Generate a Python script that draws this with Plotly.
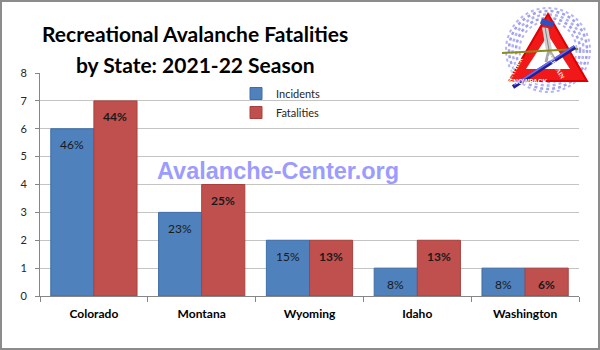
import plotly.graph_objects as go
import math

# ---- data ----
states = ["Colorado", "Montana", "Wyoming", "Idaho", "Washington"]
incidents = [6, 3, 2, 1, 1]
fatalities = [7, 4, 2, 2, 1]
incident_pct = ["46%", "23%", "15%", "8%", "8%"]
fatality_pct = ["44%", "25%", "13%", "13%", "6%"]
y_ticks = [0, 1, 2, 3, 4, 5, 6, 7, 8]
title_lines = ["Recreational Avalanche Fatalities", "by State: 2021-22 Season"]

# ---- geometry (pixels) ----
FW, FH = 600, 350
L, R, T, B = 40, 579, 73, 296
PW, PH = R - L, B - T
FONT = "Lato, 'Open Sans', sans-serif"


def px(x, y):
    return (x - L) / PW, (B - y) / PH


fig = go.Figure()
fig.add_trace(go.Bar(x=states, y=incidents, name="Incidents",
                     marker=dict(color="#4f81bd", line=dict(color="#3f6ea8", width=1))))
fig.add_trace(go.Bar(x=states, y=fatalities, name="Fatalities",
                     marker=dict(color="#c0504d", line=dict(color="#a9403d", width=1))))

annotations = []
for s, v, t in zip(states, incidents, incident_pct):
    annotations.append(dict(x=s, y=v, xref="x", yref="y", text=t, showarrow=False,
                            xshift=-21.5, yshift=-16,
                            font=dict(family=FONT, size=12, color="#1a1a1a")))
for s, v, t in zip(states, fatalities, fatality_pct):
    annotations.append(dict(x=s, y=v, xref="x", yref="y", text="<b>" + t + "</b>", showarrow=False,
                            xshift=21.5, yshift=-16,
                            font=dict(family=FONT, size=12, color="#1a1a1a")))

# title (two lines)
for line, ty in zip(title_lines, [34, 64]):
    tx, tyy = px(195, ty)
    annotations.append(dict(x=tx, y=tyy, xref="paper", yref="paper", text="<b>" + line + "</b>",
                            showarrow=False, xanchor="center", yanchor="middle",
                            font=dict(family=FONT, size=21, color="#000000")))

# watermark
wx, wy = px(278, 171)
annotations.append(dict(x=wx, y=wy, xref="paper", yref="paper", text="<b>Avalanche-Center.org</b>",
                        showarrow=False, xanchor="center", yanchor="middle",
                        font=dict(family="Liberation Sans, Arial, sans-serif", size=23.5, color="#9c9cff")))

# ---- logo (decoration) ----
shapes = []
cx, cy = 548, 50
for r, w, c in [(42, 2, "#b4b4f4"), (39, 2.5, "#a0a0ee"), (35.5, 2.5, "#b0b0f2"),
                (32, 2.5, "#a0a0ee"), (28.5, 2, "#b4b4f4")]:
    x0, y0 = px(cx - r, cy - r)
    x1, y1 = px(cx + r, cy + r)
    shapes.append(dict(type="circle", xref="paper", yref="paper", x0=x0, y0=y1, x1=x1, y1=y0,
                       line=dict(color=c, width=w, dash="dot"), layer="above"))


def path(points):
    s = ""
    for i, (a, b) in enumerate(points):
        X, Y = px(a, b)
        s += ("M" if i == 0 else "L") + f"{X:.5f},{Y:.5f} "
    return s + "Z"


outer = [(548, 14), (509, 81), (587, 81)]
inner = [(548, 35), (526, 69), (570, 69)]
shapes.append(dict(type="path", xref="paper", yref="paper", path=path(outer),
                   fillcolor="#f01818", line=dict(color="#e00000", width=2), layer="above"))
shapes.append(dict(type="path", xref="paper", yref="paper", path=path(inner),
                   fillcolor="#ffffff", line=dict(width=0), layer="above"))


def seg(a, b, c, d, color, w):
    x0, y0 = px(a, b)
    x1, y1 = px(c, d)
    return dict(type="line", xref="paper", yref="paper", x0=x0, y0=y0, x1=x1, y1=y1,
                line=dict(color=color, width=w), layer="above")


# skier
shapes.append(seg(545, 27, 549, 50, "#d0d0d0", 6))
shapes.append(seg(545, 27, 549, 50, "#808080", 1))
shapes.append(seg(549, 50, 546, 62, "#a8a8a8", 3))
shapes.append(seg(549, 50, 555, 60, "#a8a8a8", 3))
shapes.append(seg(541, 21, 553, 25, "#3050c0", 6))
shapes.append(seg(543, 26, 552, 28, "#d02020", 2))
shapes.append(seg(502, 53, 578, 49, "#8a8a1a", 2))
shapes.append(seg(513, 87, 575, 47, "#202090", 4))
shapes.append(seg(514, 85, 574, 46, "#6a6af0", 2))

ang = math.degrees(math.atan2(81 - 14, 548 - 509))
lx, ly = px(527, 53)
annotations.append(dict(x=lx, y=ly, xref="paper", yref="paper", text="<b>WEATHER</b>", showarrow=False,
                        textangle=-ang, font=dict(family="Liberation Serif, serif", size=6, color="white")))
rx, ry = px(568, 50)
annotations.append(dict(x=rx, y=ry, xref="paper", yref="paper", text="<b>TERRAIN</b>", showarrow=False,
                        textangle=ang, font=dict(family="Liberation Serif, serif", size=6, color="white")))
bx, by = px(549, 76)
annotations.append(dict(x=bx, y=by, xref="paper", yref="paper", text="<b>SNOWPACK</b>", showarrow=False,
                        font=dict(family="Liberation Sans, sans-serif", size=6.5, color="white")))

# outer frame
fx0, fy0 = px(1, 1)
fx1, fy1 = px(599, 349)
shapes.append(dict(type="rect", xref="paper", yref="paper", x0=fx0, y0=fy1, x1=fx1, y1=fy0,
                   line=dict(color="#8c8c8c", width=2), layer="above"))

fig.update_layout(
    width=FW, height=FH,
    margin=dict(l=L, r=FW - R, t=T, b=FH - B, pad=0),
    paper_bgcolor="white", plot_bgcolor="white",
    barmode="group", bargap=0.2, bargroupgap=0,
    legend=dict(x=(236 - L) / PW, y=(B - 79) / PH, xanchor="left", yanchor="top",
                bgcolor="rgba(0,0,0,0)", font=dict(family=FONT, size=11, color="#262626"),
                tracegroupgap=0),
    xaxis=dict(type="category", showline=True, linecolor="#868686", linewidth=1,
               ticks="outside", ticklen=5, tickcolor="#868686", tickson="boundaries",
               tickfont=dict(family=FONT, size=12, color="#000000", weight="bold"),
               ticklabelstandoff=7, showgrid=False),
    yaxis=dict(range=[0, 8], tickvals=y_ticks, showline=True, linecolor="#868686", linewidth=1,
               ticks="outside", ticklen=4, tickcolor="#868686",
               gridcolor="#c4c4c4", gridwidth=1, zeroline=False,
               tickfont=dict(family=FONT, size=11, color="#262626"), ticklabelstandoff=6),
    annotations=annotations, shapes=shapes, showlegend=True,
)

fig.write_html("out.html")
